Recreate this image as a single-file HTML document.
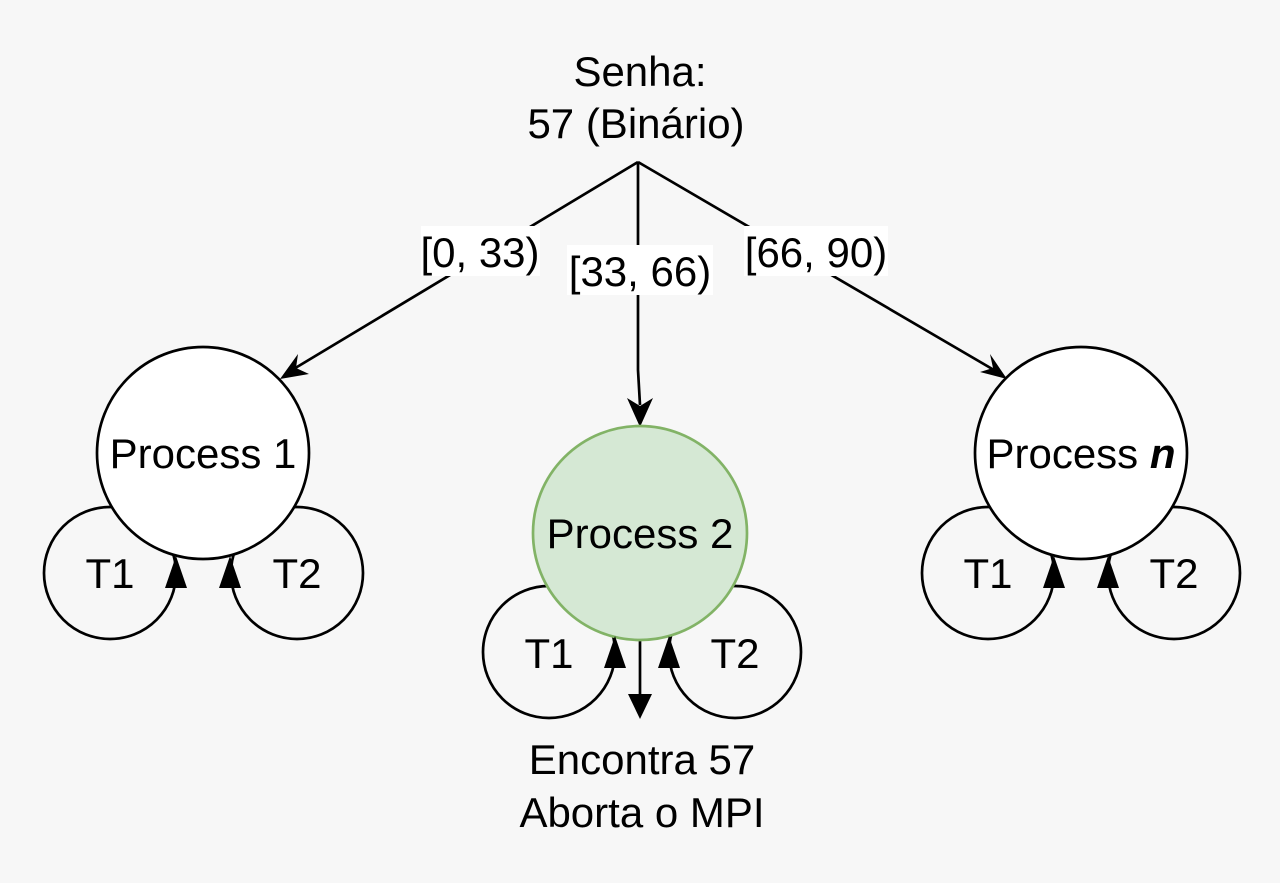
<!DOCTYPE html>
<html><head><meta charset="utf-8"><style>
html,body{margin:0;padding:0;background:#f7f7f7;}
svg{display:block;}
text{font-family:"Liberation Sans",sans-serif;fill:#000;}
</style></head><body>
<svg width="1280" height="883" viewBox="0 0 1280 883" xmlns="http://www.w3.org/2000/svg">
<rect width="1280" height="883" fill="#f7f7f7"/>
<g fill="none" stroke="#000" stroke-width="2.7">
<line x1="638" y1="162" x2="292" y2="370"/>
<polyline points="638,162 638,370 640,405"/>
<line x1="638" y1="162" x2="994" y2="370"/>
<circle cx="110" cy="573" r="66"/>
<circle cx="297" cy="573" r="66"/>
<circle cx="549" cy="652" r="66"/>
<circle cx="735" cy="652" r="66"/>
<circle cx="988" cy="573" r="66"/>
<circle cx="1174" cy="573" r="66"/>
<line x1="640" y1="640" x2="640" y2="700"/>
</g>
<polygon points="280,379 298,354 296,368 309,374" fill="#000"/>
<polygon points="640,427 627,398 640,406 653,398" fill="#000"/>
<polygon points="1007,379 980,372 993,368 990,354" fill="#000"/>
<polygon points="640,719 628,694 652,694" fill="#000"/>
<rect x="421" y="226" width="119" height="50" fill="#fff"/>
<rect x="567" y="245" width="146" height="50" fill="#fff"/>
<rect x="744" y="226" width="144" height="50" fill="#fff"/>
<g font-size="42" text-anchor="middle">
<text x="480" y="267">[0, 33)</text>
<text x="640" y="286">[33, 66)</text>
<text x="816" y="267">[66, 90)</text>
</g>
<circle cx="203" cy="453" r="106" fill="#fff" stroke="#000" stroke-width="2.7"/>
<circle cx="640" cy="533" r="107" fill="#d5e8d4" stroke="#82b366" stroke-width="2.7"/>
<circle cx="1081" cy="453" r="106" fill="#fff" stroke="#000" stroke-width="2.7"/>
<g fill="#000">
<polygon points="176,556 165,588 187,588"/>
<polygon points="230,556 219,588 241,588"/>
<polygon points="615,636 604,668 626,668"/>
<polygon points="669,636 658,668 680,668"/>
<polygon points="1054,556 1043,588 1065,588"/>
<polygon points="1108,556 1097,588 1119,588"/>
</g>
<g font-size="42" text-anchor="middle">
<text x="640" y="86">Senha:</text>
<text x="636" y="138">57 (Binário)</text>
<text x="203" y="468">Process 1</text>
<text x="640" y="548">Process 2</text>
<text x="1081" y="468">Process <tspan font-weight="bold" font-style="italic">n</tspan></text>
<text x="110" y="588">T1</text>
<text x="297" y="588">T2</text>
<text x="549" y="668">T1</text>
<text x="735" y="668">T2</text>
<text x="988" y="588">T1</text>
<text x="1174" y="588">T2</text>
<text x="642" y="774">Encontra 57</text>
<text x="642" y="827">Aborta o MPI</text>
</g>
</svg>
</body></html>
